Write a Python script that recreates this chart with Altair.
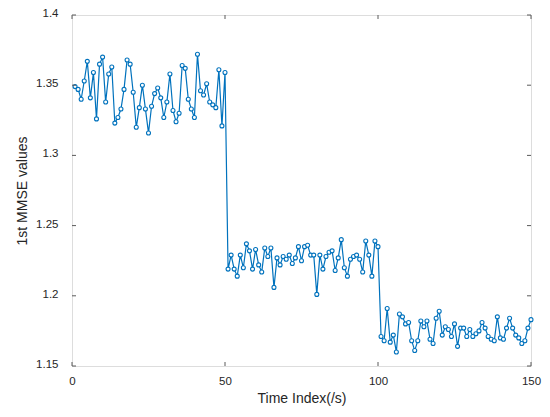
import altair as alt
import pandas as pd

time_index = list(range(1, 151))
mmse = [
    1.349, 1.347, 1.340, 1.353, 1.367, 1.341, 1.359, 1.326, 1.365, 1.370,
    1.338, 1.358, 1.363, 1.323, 1.327, 1.333, 1.347, 1.368, 1.365, 1.345,
    1.320, 1.334, 1.350, 1.333, 1.316, 1.335, 1.344, 1.348, 1.341, 1.327,
    1.338, 1.358, 1.332, 1.324, 1.330, 1.364, 1.362, 1.340, 1.333, 1.327,
    1.372, 1.346, 1.343, 1.351, 1.338, 1.336, 1.334, 1.361, 1.321, 1.359,
    1.219, 1.229, 1.219, 1.214, 1.229, 1.220, 1.237, 1.232, 1.219, 1.233,
    1.222, 1.217, 1.234, 1.228, 1.234, 1.206, 1.227, 1.222, 1.228, 1.226,
    1.229, 1.223, 1.227, 1.235, 1.225, 1.235, 1.236, 1.229, 1.229, 1.201,
    1.229, 1.219, 1.228, 1.231, 1.232, 1.218, 1.227, 1.240, 1.220, 1.214,
    1.226, 1.228, 1.229, 1.226, 1.217, 1.239, 1.229, 1.214, 1.239, 1.235,
    1.171, 1.168, 1.191, 1.167, 1.172, 1.160, 1.187, 1.185, 1.180, 1.181,
    1.168, 1.161, 1.168, 1.182, 1.178, 1.182, 1.169, 1.166, 1.184, 1.189,
    1.172, 1.178, 1.176, 1.171, 1.180, 1.164, 1.177, 1.177, 1.171, 1.176,
    1.171, 1.173, 1.175, 1.181, 1.177, 1.171, 1.169, 1.168, 1.185, 1.170,
    1.169, 1.177, 1.184, 1.177, 1.172, 1.170, 1.166, 1.168, 1.177, 1.183,
]
x_ticks = [0, 50, 100, 150]
y_ticks = [1.15, 1.2, 1.25, 1.3, 1.35, 1.4]

W, H = 459, 351
BLUE = "#0072BD"
AX = "#5a5a5a"
FONT = "Liberation Sans"

df = pd.DataFrame({"t": time_index, "v": mmse})
xt = pd.DataFrame({"t": x_ticks})
yt = pd.DataFrame({"v": y_ticks})

xscale = alt.Scale(domain=[0, 150], nice=False, zero=False)
yscale = alt.Scale(domain=[1.15, 1.4], nice=False, zero=False)

xaxis = alt.Axis(values=x_ticks, title="Time Index(/s)", ticks=False,
                 domain=False, grid=False, labelPadding=9, labelFlush=False,
                 labelFontSize=11.5, labelColor="#262626", labelFont=FONT,
                 titleFont=FONT, titleFontSize=14, titleFontWeight="normal",
                 titleColor="#262626", titlePadding=5)
yaxis = alt.Axis(values=y_ticks, title="1st MMSE values", ticks=False,
                 domain=False, grid=False, labelPadding=14, format="~g",
                 labelFlush=False, labelOffset=-1.5,
                 labelFontSize=11.5, labelColor="#262626", labelFont=FONT,
                 titleFont=FONT, titleFontSize=14, titleFontWeight="normal",
                 titleColor="#262626", titlePadding=6)

base = alt.Chart(df)
line = base.mark_line(color=BLUE, strokeWidth=1.2).encode(
    x=alt.X("t:Q", scale=xscale, axis=xaxis),
    y=alt.Y("v:Q", scale=yscale, axis=yaxis),
)
pts = base.mark_point(shape="circle", size=16, filled=True, fill="white",
                      stroke=BLUE, strokeWidth=1.1, opacity=1).encode(
    x=alt.X("t:Q", scale=xscale, axis=xaxis),
    y=alt.Y("v:Q", scale=yscale, axis=yaxis),
)

tick_len = 4
left_ticks = alt.Chart(yt).mark_rule(color=AX, strokeWidth=1).encode(
    y=alt.Y("v:Q", scale=yscale, axis=yaxis), x=alt.value(0), x2=alt.value(tick_len))
right_ticks = alt.Chart(yt).mark_rule(color=AX, strokeWidth=1).encode(
    y=alt.Y("v:Q", scale=yscale, axis=yaxis), x=alt.value(W - tick_len), x2=alt.value(W))
bottom_ticks = alt.Chart(xt).mark_rule(color=AX, strokeWidth=1).encode(
    x=alt.X("t:Q", scale=xscale, axis=xaxis), y=alt.value(H - tick_len), y2=alt.value(H))
top_ticks = alt.Chart(xt).mark_rule(color=AX, strokeWidth=1).encode(
    x=alt.X("t:Q", scale=xscale, axis=xaxis), y=alt.value(0), y2=alt.value(tick_len))

chart = alt.layer(line, pts, left_ticks, right_ticks, bottom_ticks, top_ticks).properties(
    width=W, height=H,
    autosize=alt.AutoSizeParams(type="none"),
    padding={"left": 64, "top": 7, "right": 11, "bottom": 43},
).configure_view(stroke=AX, strokeWidth=1.2).configure(background="white")

chart.save("out.html", embed_options={"renderer": "svg", "actions": False})
